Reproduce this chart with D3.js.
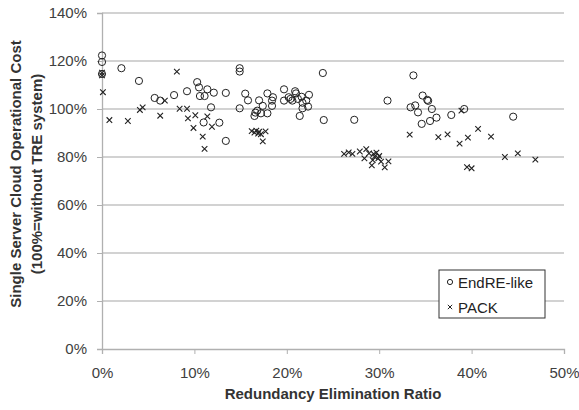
<!DOCTYPE html>
<html>
<head>
<meta charset="utf-8">
<script src="https://cdn.jsdelivr.net/npm/d3@7"></script>
<style>
  body { margin: 0; background: #fff; }
  text { font-family: "Liberation Sans", Arial, sans-serif; }
</style>
</head>
<body>
<div id="chart"></div>
<script>
// x = redundancy elimination ratio (%), y = relative cost (%)
const endreX = [0, 0, 0, 2.1, 4.0, 5.7, 6.3, 7.8, 9.2, 10.3, 10.5, 10.6, 11.1, 11.4, 12.1, 11.8, 11.0, 12.7, 13.4, 13.4,
  14.9, 14.9, 14.9, 15.5, 15.8, 17.0, 16.5, 16.6, 16.8, 17.2, 17.4, 17.9, 17.9, 18.4, 18.4, 18.5, 19.7, 19.7, 20.2, 20.4,
  20.6, 20.9, 21.0, 21.2, 21.4, 21.6, 21.7, 21.7, 22.1, 22.3, 22.4, 23.9, 24.0, 27.3, 30.9, 33.7, 33.4, 33.9, 34.2, 34.7,
  35.2, 35.3, 35.7, 34.6, 35.5, 36.2, 37.8, 39.2, 44.5];
const endreY = [122.3, 119.6, 114.6, 117, 111.7, 104.6, 103.5, 105.8, 107.4, 111.2, 109, 105.4, 105.4, 108.2, 106.8, 100.7, 94.4, 94.3, 86.7, 106.7,
  117, 115.6, 100.3, 106.4, 103.6, 103.6, 97.1, 98.5, 99.3, 98.2, 101.3, 106.5, 98.2, 101.3, 103.5, 104.9, 108.2, 103.5, 104.9, 104.2,
  103.5, 107.4, 106.5, 104.2, 97.1, 105.1, 102.6, 100.3, 103.5, 101, 105.9, 115, 95.4, 95.5, 103.5, 114, 100.7, 101.5, 98.6, 105.6,
  103.8, 103.4, 100, 93.8, 95, 96.4, 97.5, 100, 96.8];

const packX = [0, 0, 0.1, 0.8, 2.8, 4.1, 4.4, 6.3, 6.8, 8.1, 8.4, 9.2, 9.3, 10.1, 9.9, 10.9, 11.1, 11.4, 11.9,
  16.2, 16.5, 16.7, 16.9, 17.0, 17.2, 17.7, 17.4, 26.2, 26.7, 27.1, 27.9, 28.4, 28.6, 28.9, 29.2, 29.3, 29.4, 29.5,
  29.7, 29.9, 30.0, 30.2, 30.6, 31.0, 33.3, 36.4, 37.4, 38.7, 38.9, 39.6, 40.7, 42.1, 39.5, 40.0, 43.6, 45.0, 46.9];
const packY = [115.1, 114, 107, 95.4, 95, 99.6, 100.7, 97.2, 103.5, 115.6, 100.1, 100.1, 96.1, 97.4, 92.1, 88.5, 83.4, 96.9, 92.6,
  90.8, 90.2, 91, 89.8, 90.5, 89.5, 90.7, 86.5, 81.3, 81.9, 81.3, 82.3, 79.4, 83.3, 81.5, 76.5, 78.7, 81.3, 80.1,
  81.8, 79.4, 80.4, 78.1, 75.7, 78.2, 89.3, 88.3, 89.4, 85.6, 99.3, 88.1, 91.7, 88.5, 75.8, 75.3, 80, 81.5, 78.9];

const xTicks = [0, 10, 20, 30, 40, 50];
const yTicks = [0, 20, 40, 60, 80, 100, 120, 140];

const W = 579, H = 410;
const margin = { top: 13, right: 15, bottom: 61, left: 102 };
const width = W - margin.left - margin.right;
const height = H - margin.top - margin.bottom;

const svg = d3.select("#chart").append("svg")
  .attr("width", W)
  .attr("height", H);

const g = svg.append("g")
  .attr("transform", `translate(${margin.left},${margin.top})`);

const x = d3.scaleLinear().domain([0, 50]).range([0, width]);
const y = d3.scaleLinear().domain([0, 140]).range([height, 0]);

// gridlines
g.selectAll(".grid")
  .data(yTicks.filter(d => d > 0))
  .enter().append("line")
  .attr("x1", 0).attr("x2", width)
  .attr("y1", d => y(d)).attr("y2", d => y(d))
  .attr("stroke", "#c3c3c3")
  .attr("stroke-width", 1.3);

// y axis
const yAxis = g.append("g")
  .call(d3.axisLeft(y).tickValues(yTicks).tickFormat(d => d + "%").tickSize(5).tickPadding(10));
yAxis.select(".domain").attr("stroke", "#b0b0b0").attr("stroke-width", 1.3);
yAxis.selectAll(".tick line").attr("stroke", "#b0b0b0");
yAxis.selectAll("text").attr("fill", "#404040").style("font-size", "15px");

// x axis
const xAxis = g.append("g")
  .attr("transform", `translate(0,${height})`)
  .call(d3.axisBottom(x).tickValues(xTicks).tickFormat(d => d + "%").tickSize(5).tickPadding(13));
xAxis.select(".domain").attr("stroke", "#b0b0b0").attr("stroke-width", 1.3);
xAxis.selectAll(".tick line").attr("stroke", "#b0b0b0");
xAxis.selectAll("text").attr("fill", "#404040").style("font-size", "15px");

// points
const endre = endreX.map((d, i) => ({ x: d, y: endreY[i] }));
const pack = packX.map((d, i) => ({ x: d, y: packY[i] }));

const cross = d3.symbol().type(d3.symbolX).size(22);

g.selectAll(".pack")
  .data(pack)
  .enter().append("path")
  .attr("d", cross)
  .attr("transform", d => `translate(${x(d.x)},${y(d.y)})`)
  .attr("fill", "none")
  .attr("stroke", "#222")
  .attr("stroke-width", 1.1);

g.selectAll(".endre")
  .data(endre)
  .enter().append("circle")
  .attr("cx", d => x(d.x))
  .attr("cy", d => y(d.y))
  .attr("r", 3.6)
  .attr("fill", "none")
  .attr("stroke", "#222")
  .attr("stroke-width", 1);

// legend
const lg = svg.append("g").attr("transform", "translate(439,270)");
lg.append("rect")
  .attr("width", 106).attr("height", 48)
  .attr("fill", "#fff").attr("stroke", "#333").attr("stroke-width", 1);
lg.append("circle").attr("cx", 11).attr("cy", 12).attr("r", 2.6)
  .attr("fill", "none").attr("stroke", "#222");
lg.append("path").attr("d", d3.symbol().type(d3.symbolX).size(14))
  .attr("transform", "translate(11,37)").attr("stroke", "#222").attr("fill", "none");
lg.append("text").attr("x", 19).attr("y", 17.5).text("EndRE-like")
  .style("font-size", "15px").attr("fill", "#222");
lg.append("text").attr("x", 19).attr("y", 42.5).text("PACK")
  .style("font-size", "15px").attr("fill", "#222");

// axis titles
svg.append("text")
  .attr("x", margin.left + width / 2)
  .attr("y", 399)
  .attr("text-anchor", "middle")
  .style("font-size", "15px")
  .style("font-weight", "bold")
  .attr("fill", "#333")
  .text("Redundancy Elimination Ratio");

const yt = svg.append("text")
  .attr("transform", "translate(0,174) rotate(-90)")
  .attr("text-anchor", "middle")
  .style("font-size", "15px")
  .style("font-weight", "bold")
  .attr("fill", "#333");
yt.append("tspan").attr("x", 0).attr("y", 21).text("Single Server Cloud Operational Cost");
yt.append("tspan").attr("x", 0).attr("y", 42).text("(100%=without TRE system)");
</script>
</body>
</html>
